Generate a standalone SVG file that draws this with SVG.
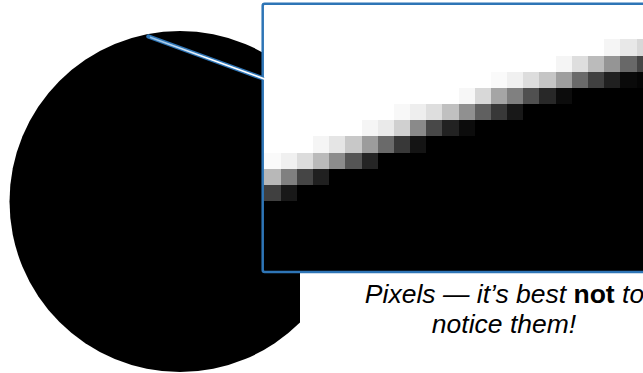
<svg xmlns="http://www.w3.org/2000/svg" width="643" height="373" viewBox="0 0 643 373">
  <style>
    .frame { fill: none; stroke: #2E75B6; stroke-width: 2.5; }
    .caption { font-family: "Liberation Sans", Arial, sans-serif; font-size: 26.5px; font-style: italic; fill: #000; text-anchor: middle; }
    .strong { font-weight: bold; font-style: normal; }
  </style>
  <defs>
    <clipPath id="circleClip"><rect x="0" y="0" width="300" height="373"/></clipPath>
    <clipPath id="boxClip"><rect x="263" y="4" width="380" height="268"/></clipPath>
    <linearGradient id="shine" gradientUnits="userSpaceOnUse" x1="148" y1="37" x2="262" y2="78">
      <stop offset="0" stop-color="#8dbbe3"/>
      <stop offset="0.55" stop-color="#ffffff"/>
      <stop offset="1" stop-color="#ffffff"/>
    </linearGradient>
  </defs>
  <rect width="643" height="373" fill="#fff"/>

  <g id="circle">
    <circle cx="180" cy="201.5" r="170.5" fill="#000" clip-path="url(#circleClip)"/>
  </g>

  <g id="zoom-box">
    <rect x="263" y="4" width="380" height="268" fill="#fff"/>
    <g clip-path="url(#boxClip)">
      <g transform="translate(264.6,120.3) scale(16.17)" shape-rendering="crispEdges">
        <path d="M19,-2 H25 V10 H0 V5 H2 V4 H4 V3 H7 V2 H10 V1 H13 V0 H16 V-1 H19 Z" fill="#000"/>
        <rect x="21" y="-5" width="1" height="1" fill="#f5f5f5"/>
        <rect x="22" y="-5" width="1" height="1" fill="#e8e8e8"/>
        <rect x="23" y="-5" width="2" height="1" fill="#d8d8d8"/>
        <rect x="18" y="-4" width="1" height="1" fill="#f5f5f5"/>
        <rect x="19" y="-4" width="1" height="1" fill="#dedede"/>
        <rect x="20" y="-4" width="1" height="1" fill="#bbbbbb"/>
        <rect x="21" y="-4" width="1" height="1" fill="#959595"/>
        <rect x="22" y="-4" width="1" height="1" fill="#686868"/>
        <rect x="23" y="-4" width="2" height="1" fill="#454545"/>
        <rect x="14" y="-3" width="1" height="1" fill="#fafafa"/>
        <rect x="15" y="-3" width="1" height="1" fill="#f0f0f0"/>
        <rect x="16" y="-3" width="1" height="1" fill="#dddddd"/>
        <rect x="17" y="-3" width="1" height="1" fill="#c5c5c5"/>
        <rect x="18" y="-3" width="1" height="1" fill="#9e9e9e"/>
        <rect x="19" y="-3" width="1" height="1" fill="#6a6a6a"/>
        <rect x="20" y="-3" width="1" height="1" fill="#404040"/>
        <rect x="21" y="-3" width="1" height="1" fill="#202020"/>
        <rect x="22" y="-3" width="1" height="1" fill="#0a0a0a"/>
        <rect x="23" y="-3" width="2" height="1" fill="#050505"/>
        <rect x="12" y="-2" width="1" height="1" fill="#f7f7f7"/>
        <rect x="13" y="-2" width="1" height="1" fill="#d8d8d8"/>
        <rect x="14" y="-2" width="1" height="1" fill="#a5a5a5"/>
        <rect x="15" y="-2" width="1" height="1" fill="#808080"/>
        <rect x="16" y="-2" width="1" height="1" fill="#505050"/>
        <rect x="17" y="-2" width="1" height="1" fill="#282828"/>
        <rect x="18" y="-2" width="1" height="1" fill="#0c0c0c"/>
        <rect x="8" y="-1" width="1" height="1" fill="#f8f8f8"/>
        <rect x="9" y="-1" width="1" height="1" fill="#eeeeee"/>
        <rect x="10" y="-1" width="1" height="1" fill="#dedede"/>
        <rect x="11" y="-1" width="1" height="1" fill="#c0c0c0"/>
        <rect x="12" y="-1" width="1" height="1" fill="#909090"/>
        <rect x="13" y="-1" width="1" height="1" fill="#606060"/>
        <rect x="14" y="-1" width="1" height="1" fill="#383838"/>
        <rect x="15" y="-1" width="1" height="1" fill="#181818"/>
        <rect x="6" y="0" width="1" height="1" fill="#f5f5f5"/>
        <rect x="7" y="0" width="1" height="1" fill="#eaeaea"/>
        <rect x="8" y="0" width="1" height="1" fill="#d0d0d0"/>
        <rect x="9" y="0" width="1" height="1" fill="#8a8a8a"/>
        <rect x="10" y="0" width="1" height="1" fill="#484848"/>
        <rect x="11" y="0" width="1" height="1" fill="#222222"/>
        <rect x="12" y="0" width="1" height="1" fill="#0c0c0c"/>
        <rect x="3" y="1" width="1" height="1" fill="#f5f5f5"/>
        <rect x="4" y="1" width="1" height="1" fill="#e5e5e5"/>
        <rect x="5" y="1" width="1" height="1" fill="#c8c8c8"/>
        <rect x="6" y="1" width="1" height="1" fill="#9c9c9c"/>
        <rect x="7" y="1" width="1" height="1" fill="#6a6a6a"/>
        <rect x="8" y="1" width="1" height="1" fill="#383838"/>
        <rect x="9" y="1" width="1" height="1" fill="#141414"/>
        <rect x="-1" y="2" width="2" height="1" fill="#fafafa"/>
        <rect x="1" y="2" width="1" height="1" fill="#f0f0f0"/>
        <rect x="2" y="2" width="1" height="1" fill="#dcdcdc"/>
        <rect x="3" y="2" width="1" height="1" fill="#bababa"/>
        <rect x="4" y="2" width="1" height="1" fill="#8c8c8c"/>
        <rect x="5" y="2" width="1" height="1" fill="#555555"/>
        <rect x="6" y="2" width="1" height="1" fill="#252525"/>
        <rect x="-1" y="3" width="2" height="1" fill="#b8b8b8"/>
        <rect x="1" y="3" width="1" height="1" fill="#808080"/>
        <rect x="2" y="3" width="1" height="1" fill="#454545"/>
        <rect x="3" y="3" width="1" height="1" fill="#202020"/>
        <rect x="-1" y="4" width="2" height="1" fill="#404040"/>
        <rect x="1" y="4" width="1" height="1" fill="#181818"/>
        <rect x="-1" y="5" width="1" height="5" fill="#000"/>
      </g>
    </g>
    <rect class="frame" x="262.7" y="3.7" width="400" height="268.3" rx="2"/>
  </g>

  <g id="connectors">
    <line x1="148.5" y1="36.5" x2="262" y2="78" stroke="#2E75B6" stroke-width="4.5" stroke-linecap="round"/>
    <line x1="150" y1="37.3" x2="265.5" y2="79.4" stroke="url(#shine)" stroke-width="1.7"/>
  </g>

  <g id="caption">
    <text class="caption" x="504.5" y="303">Pixels — it’s best <tspan class="strong">not</tspan> to</text>
    <text class="caption" x="504" y="333">notice them!</text>
  </g>
</svg>
